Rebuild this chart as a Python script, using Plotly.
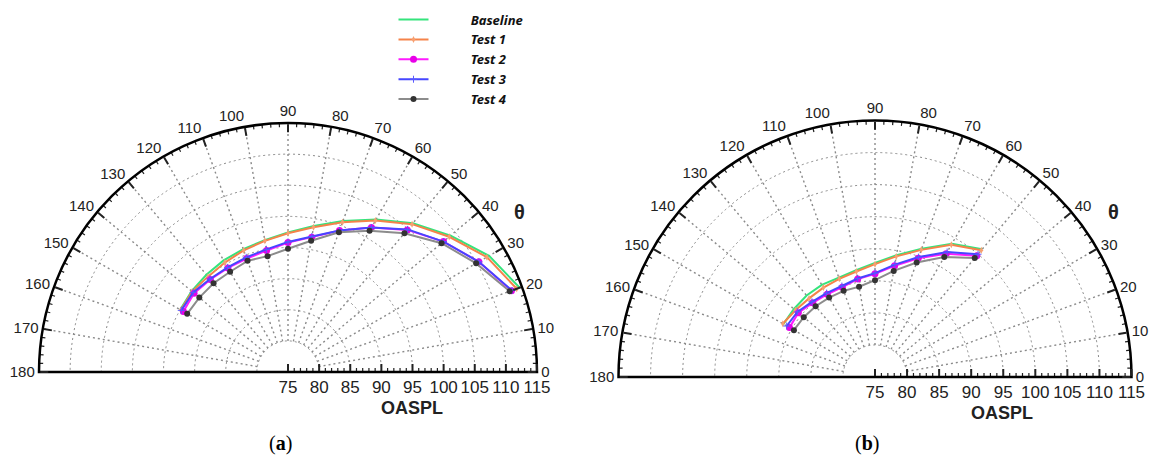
import math
import plotly.graph_objects as go

# ---------------- data ----------------
series_names = ["Baseline", "Test 1", "Test 2", "Test 3", "Test 4"]

theta_a = [20, 30, 40, 50, 60, 70, 80, 90, 100, 110, 120, 130, 140, 150]
baseline_a = [114.6, 112.3, 109.1, 106.2, 103.3, 100.8, 98.8, 97.4, 96.5, 96.0, 95.7, 95.4, 95.2, 95.0]
test1_a = [114.1, 111.9, 108.8, 106.0, 103.1, 100.6, 98.6, 97.3, 96.4, 95.8, 95.3, 95.0, 95.1, 94.9]
test2_a = [113.2, 110.4, 107.6, 104.8, 101.8, 99.2, 97.0, 95.8, 94.8, 94.4, 94.3, 94.4, 94.7, 94.4]
test3_a = [113.3, 110.4, 107.6, 104.9, 101.8, 99.2, 97.1, 95.9, 95.0, 94.6, 94.4, 94.5, 94.9, 94.8]
test4_a = [112.9, 109.9, 107.2, 104.1, 101.2, 98.9, 96.4, 94.8, 93.9, 94.0, 93.6, 93.6, 93.6, 93.7]

theta_b = [50, 60, 70, 80, 90, 100, 110, 120, 130, 140, 150]
baseline_b = [101.0, 99.0, 96.3, 94.3, 92.8, 91.9, 91.5, 91.6, 91.6, 91.5, 91.5]
test1_b = [100.8, 98.8, 96.1, 94.1, 92.6, 91.7, 91.3, 91.1, 91.0, 91.2, 91.6]
test2_b = [99.7, 97.2, 94.7, 92.6, 91.1, 90.5, 89.9, 89.9, 90.1, 90.6, 90.4]
test3_b = [100.0, 97.5, 94.9, 92.8, 91.2, 90.6, 90.1, 90.1, 90.3, 90.8, 90.9]
test4_b = [99.2, 96.6, 94.0, 91.8, 90.1, 89.3, 89.3, 89.3, 89.4, 89.5, 89.6]

radial_ticks = [75, 80, 85, 90, 95, 100, 105, 110, 115]
angle_ticks = list(range(0, 181, 10))
R_MIN, R_MAX = 75, 115

# ---------------- styling ----------------
W, H = 1151, 457
styles = {
    "Baseline": dict(line=dict(color="#35e47c", width=2), mode="lines"),
    "Test 1": dict(line=dict(color="#f5834a", width=2), mode="lines+markers",
                   marker=dict(symbol="diamond-tall", size=5, color="#f7a070")),
    "Test 2": dict(line=dict(color="#ff1aff", width=2), mode="lines+markers",
                   marker=dict(symbol="circle", size=7, color="#e800e8")),
    "Test 3": dict(line=dict(color="#4646ff", width=2), mode="lines+markers",
                   marker=dict(symbol="cross-thin", size=5,
                               line=dict(color="#5a5aff", width=1))),
    "Test 4": dict(line=dict(color="#8c8c8c", width=2), mode="lines+markers",
                   marker=dict(symbol="circle", size=6, color="#333333")),
}

# domains chosen so each half-disc has the wanted centre and radius (px)
panels = [
    dict(sub="polar", cx=288, cy=372, R=249, theta=theta_a,
         data=[baseline_a, test1_a, test2_a, test3_a, test4_a], label="a"),
    dict(sub="polar2", cx=875, cy=377, R=256.5, theta=theta_b,
         data=[baseline_b, test1_b, test2_b, test3_b, test4_b], label="b"),
]

fig = go.Figure()
GRID = "#8a8a8a"
PAD = "&nbsp;" * 11


def seg_trace(sub, r, t, color, width, dash="solid"):
    return go.Scatterpolar(r=r, theta=t, subplot=sub, mode="lines",
                           line=dict(color=color, width=width, dash=dash),
                           hoverinfo="skip", showlegend=False)


def text_at(x, y, text, font):
    fig.add_annotation(x=x / W, y=1 - y / H, xref="paper", yref="paper",
                       xanchor="center", yanchor="middle", text=text,
                       showarrow=False, font=font)


for p in panels:
    sub = p["sub"]
    s = p["R"] / (R_MAX - R_MIN)  # px per OASPL unit

    # dotted spokes from the r=80 ring to the rim
    sr, st = [], []
    for a in range(10, 180, 10):
        sr += [80, R_MAX, None]
        st += [a, a, None]
    fig.add_trace(seg_trace(sub, sr, st, GRID, 1.4, "2px,3px"))

    # left half of the base line
    fig.add_trace(seg_trace(sub, [R_MIN, R_MAX], [180, 180], "black", 2))

    # minor ticks on the rim every 2 degrees
    mr, mt = [], []
    for a in range(2, 180, 2):
        if a % 10:
            mr += [R_MAX, R_MAX - 4 / s, None]
            mt += [a, a, None]
    fig.add_trace(seg_trace(sub, mr, mt, "#222222", 1.2))

    # minor ticks on the radial scale every 1 unit
    rr, rt = [], []
    for v in range(R_MIN + 1, R_MAX):
        if v % 5:
            d = (v - R_MIN) * s
            h = 4.0
            rr += [v, R_MIN + math.hypot(d, h) / s, None]
            rt += [0, math.degrees(math.atan2(h, d)), None]
    fig.add_trace(seg_trace(sub, rr, rt, "#222222", 1.2))

    # data series
    for name, vals in zip(series_names, p["data"]):
        fig.add_trace(go.Scatterpolar(
            r=vals, theta=p["theta"], subplot=sub,
            name="<b><i>" + PAD + name + "</i></b>",
            showlegend=(sub == "polar"), hoverinfo="skip",
            **styles[name]))

    x0 = (p["cx"] - p["R"]) / W
    x1 = (p["cx"] + p["R"]) / W
    y0 = 1 - p["cy"] / H
    y1 = 1 - (p["cy"] - p["R"]) / H
    fig.update_layout(**{sub: dict(
        domain=dict(x=[x0, x1], y=[y0, y1]),
        sector=[0, 180],
        bgcolor="white",
        radialaxis=dict(
            range=[R_MIN, R_MAX], tickvals=radial_ticks, angle=0,
            side="clockwise", ticks="inside", ticklen=7, tickwidth=1.5,
            tickcolor="#222222", showline=True, linecolor="black", linewidth=2,
            showgrid=True, gridcolor=GRID, gridwidth=1.4, griddash="2px,3px",
            tickfont=dict(family="Liberation Sans", size=17, color="#222222"),
        ),
        angularaxis=dict(
            rotation=0, direction="counterclockwise", tickvals=angle_ticks,
            ticks="inside", ticklen=8, tickwidth=2, tickcolor="#222222",
            showline=True, linecolor="black", linewidth=2.5, showgrid=False,
            tickfont=dict(family="Liberation Sans", size=15, color="#222222"),
        ),
    )})

    # axis titles and panel label
    ang = math.radians(34.6)
    text_at(p["cx"] + 1.13 * p["R"] * math.cos(ang),
            p["cy"] - 1.13 * p["R"] * math.sin(ang), "<b>θ</b>",
            dict(family="Liberation Sans", size=20, color="#222222"))
    text_at(p["cx"] + 0.497 * p["R"], p["cy"] + 36, "<b>OASPL</b>",
            dict(family="Liberation Sans", size=18, color="#222222"))
    text_at(p["cx"] - 8, 443, "(<b>" + p["label"] + "</b>)",
            dict(family="Liberation Serif", size=20, color="black"))

fig.update_layout(
    width=W, height=H,
    margin=dict(l=0, r=0, t=0, b=0),
    paper_bgcolor="white",
    legend=dict(x=393.5 / W, y=0.99, xanchor="left", yanchor="top",
                bgcolor="rgba(0,0,0,0)",
                font=dict(family="Noto Sans", size=13, color="#111111"),
                itemwidth=30),
)

fig.write_html("out.html")
